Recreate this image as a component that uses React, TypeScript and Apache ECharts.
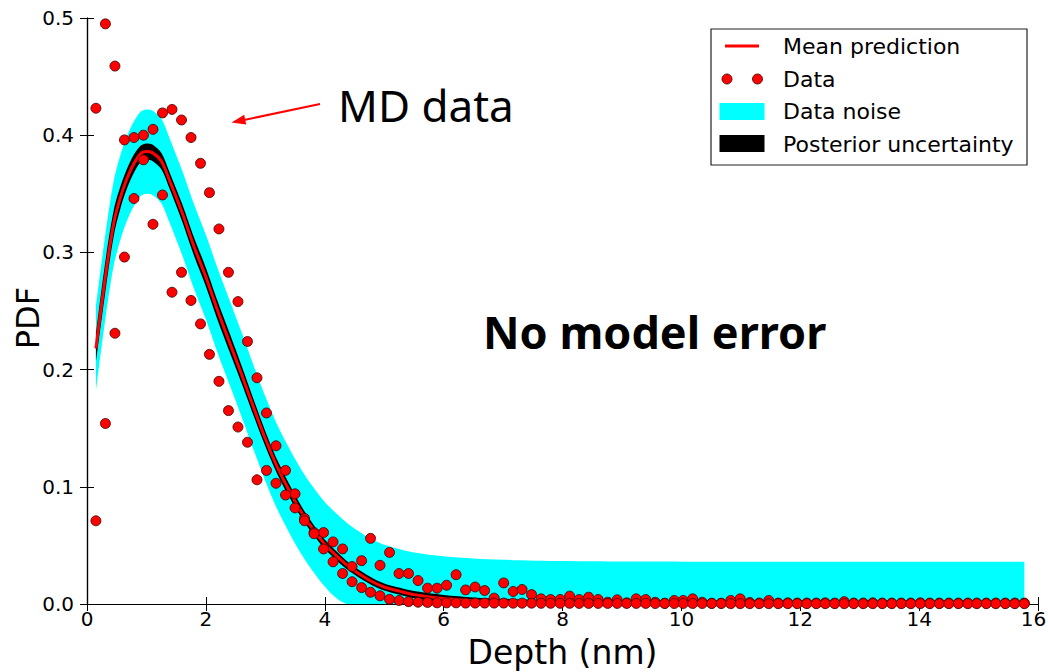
import React, { useEffect, useRef } from "react";
import * as echarts from "echarts";

// Depth grid of the MD data (nm)
const depthX = [
  0.15, 0.31, 0.47, 0.63, 0.79, 0.95, 1.11, 1.27, 1.43, 1.59,
  1.75, 1.91, 2.06, 2.22, 2.38, 2.54, 2.7, 2.86, 3.02, 3.18,
  3.34, 3.5, 3.66, 3.82, 3.98, 4.14, 4.3, 4.46, 4.62, 4.77,
  4.93, 5.09, 5.25, 5.41, 5.57, 5.73, 5.89, 6.05, 6.21, 6.37,
  6.53, 6.69, 6.85, 7.01, 7.17, 7.32, 7.48, 7.64, 7.8, 7.96,
  8.12, 8.28, 8.44, 8.6, 8.76, 8.92, 9.08, 9.24, 9.4, 9.56,
  9.72, 9.88, 10.03, 10.19, 10.35, 10.51, 10.67, 10.83, 10.99, 11.15,
  11.31, 11.47, 11.63, 11.79, 11.95, 12.11, 12.27, 12.42, 12.58, 12.74,
  12.9, 13.06, 13.22, 13.38, 13.54, 13.7, 13.86, 14.02, 14.18, 14.34,
  14.5, 14.66, 14.82, 14.97, 15.13, 15.29, 15.45, 15.61, 15.77,
];

// Data sample 1 (PDF)
const dataA = [
  0.423, 0.495, 0.459, 0.396, 0.398, 0.4, 0.405, 0.419, 0.422, 0.413,
  0.398, 0.376, 0.351, 0.32, 0.283, 0.258, 0.224, 0.193, 0.163, 0.135,
  0.114, 0.094, 0.073, 0.061, 0.061, 0.053, 0.047, 0.032, 0.037, 0.056,
  0.033, 0.044, 0.026, 0.026, 0.02, 0.0135, 0.0135, 0.016, 0.025, 0.012,
  0.0145, 0.0115, 0.005, 0.018, 0.0107, 0.0124, 0.008, 0.0044, 0.0038, 0.0038,
  0.0067, 0.0038, 0.0058, 0.0038, 0.0015, 0.0036, 0.001, 0.0044, 0.0038, 0.0015,
  0.0007, 0.003, 0.003, 0.0044, 0.0015, 0.0007, 0.0007, 0.003, 0.0044, 0.0013,
  0.0008, 0.003, 0.0008, 0.001, 0.0008, 0.0008, 0.0008, 0.001, 0.0008, 0.002,
  0.0008, 0.0008, 0.001, 0.0008, 0.0008, 0.0008, 0.0008, 0.001, 0.0008, 0.0008,
  0.0008, 0.0008, 0.0008, 0.0008, 0.0008, 0.0008, 0.0008, 0.0008, 0.0008,
];

// Data sample 2 (PDF)
const dataB = [
  0.071, 0.154, 0.231, 0.296, 0.346, 0.379, 0.324, 0.349, 0.266, 0.283,
  0.259, 0.239, 0.213, 0.19, 0.165, 0.151, 0.138, 0.106, 0.114, 0.103,
  0.093, 0.082, 0.071, 0.06, 0.047, 0.036, 0.026, 0.019, 0.014, 0.01,
  0.007, 0.004, 0.003, 0.002, 0.0015, 0.0013, 0.001, 0.001, 0.001, 0.0008,
  0.0008, 0.0008, 0.0008, 0.0008, 0.0007, 0.0007, 0.0007, 0.0006, 0.0006, 0.0006,
  0.0006, 0.0005, 0.0005, 0.0005, 0.0005, 0.0005, 0.0005, 0.0005, 0.0005, 0.0004,
  0.0004, 0.0004, 0.0004, 0.0004, 0.0004, 0.0004, 0.0004, 0.0003, 0.0003, 0.0003,
  0.0003, 0.0003, 0.0003, 0.0003, 0.0003, 0.0003, 0.0003, 0.0003, 0.0003, 0.0003,
  0.0003, 0.0003, 0.0003, 0.0003, 0.0003, 0.0003, 0.0003, 0.0003, 0.0003, 0.0003,
  0.0003, 0.0003, 0.0003, 0.0003, 0.0003, 0.0003, 0.0003, 0.0003, 0.0003,
];

// Model curves
const curveX = [
  0.15, 0.3, 0.45, 0.6, 0.75, 0.9, 1.0, 1.1, 1.25, 1.4, 1.6, 1.8, 2.0, 2.2, 2.4,
  2.6, 2.8, 3.0, 3.2, 3.4, 3.6, 3.8, 4.0, 4.2, 4.4, 4.6, 4.8, 5.0, 5.25, 5.5,
  6.0, 6.5, 7.0, 8.0, 9.0, 10.0, 12.0, 14.0, 15.77,
];
const meanPrediction = [
  0.218, 0.276, 0.325, 0.353, 0.372, 0.384, 0.386, 0.385, 0.378, 0.36, 0.334, 0.305, 0.279, 0.25, 0.223,
  0.196, 0.168, 0.141, 0.117, 0.097, 0.079, 0.064, 0.051, 0.041, 0.032, 0.025, 0.019, 0.0145, 0.011, 0.008,
  0.0047, 0.0028, 0.0017, 0.0006, 0.0002, 0.0001, 0, 0, 0,
];
const posteriorLow = [
  0.206, 0.263, 0.314, 0.344, 0.364, 0.377, 0.379, 0.378, 0.371, 0.353, 0.3265, 0.2972, 0.271, 0.242, 0.215,
  0.1885, 0.161, 0.1345, 0.111, 0.0915, 0.074, 0.0595, 0.047, 0.0372, 0.0285, 0.0217, 0.0158, 0.0115, 0.008, 0.005,
  0.0017, 0, 0, 0, 0, 0, 0, 0, 0,
];
const posteriorHigh = [
  0.23, 0.289, 0.336, 0.362, 0.38, 0.391, 0.393, 0.392, 0.385, 0.367, 0.3415, 0.3128, 0.287, 0.258, 0.231,
  0.2035, 0.175, 0.1475, 0.123, 0.1025, 0.084, 0.0685, 0.055, 0.0448, 0.0355, 0.0283, 0.0222, 0.0175, 0.014, 0.011,
  0.0077, 0.0056, 0.0044, 0.0032, 0.0028, 0.0027, 0.0026, 0.0026, 0.0026,
];
const noiseLow = [
  0.182, 0.24, 0.289, 0.317, 0.336, 0.348, 0.35, 0.349, 0.342, 0.324, 0.298, 0.269, 0.243, 0.214, 0.187,
  0.16, 0.132, 0.105, 0.081, 0.061, 0.043, 0.028, 0.015, 0.005, 0, 0, 0, 0, 0, 0,
  0, 0, 0, 0, 0, 0, 0, 0, 0,
];
const noiseHigh = [
  0.254, 0.312, 0.361, 0.389, 0.408, 0.42, 0.422, 0.421, 0.414, 0.396, 0.37, 0.341, 0.315, 0.286, 0.259,
  0.232, 0.204, 0.177, 0.153, 0.133, 0.115, 0.1, 0.087, 0.077, 0.068, 0.061, 0.055, 0.0505, 0.047, 0.044,
  0.0407, 0.0388, 0.0377, 0.0366, 0.0362, 0.0361, 0.036, 0.036, 0.036,
];

const xTicks = { min: 0, max: 16, interval: 2 };
const yTicks = { min: 0, max: 0.5, interval: 0.1 };

const yAxisTitle = "PDF";
const legendLabels = ["Mean prediction", "Data", "Data noise", "Posterior uncertainty"];
const annotationMD = "MD data";
const annotationModel = "No model error";

const FONT = "'DejaVu Sans', sans-serif";

export default function App() {
  const ref = useRef<HTMLDivElement>(null);

  useEffect(() => {
    if (!ref.current) return;
    const chart = echarts.init(ref.current, undefined, { renderer: "svg" });

    const pair = (xs: number[], ys: number[]) => xs.map((x, i) => [x, ys[i]]);
    // [y, x] ordering so that stacking happens on the y dimension
    const yxPair = (ys: number[]) => curveX.map((x, i) => [ys[i], x]);
    const yxWidth = (lo: number[], hi: number[]) => curveX.map((x, i) => [hi[i] - lo[i], x]);

    const scatterData = [...pair(depthX, dataA), ...pair(depthX, dataB)];

    const axisCommon = {
      axisLine: { show: true, lineStyle: { color: "#000", width: 1.2 } },
      axisTick: { show: true, inside: true, length: 7, lineStyle: { color: "#000", width: 1 } },
      splitLine: { show: false },
    };

    const legendX = 711;
    const legendY = 29;
    const rowY = [46, 79, 111.5, 144];

    const bandCommon = {
      type: "line",
      smooth: 0.3,
      symbol: "none",
      stackStrategy: "all",
      encode: { x: 1, y: 0 },
      lineStyle: { opacity: 0, width: 0 },
      silent: true,
    };

    const option: any = {
      animation: false,
      backgroundColor: "#fff",
      grid: { left: 87, right: 10, top: 18, bottom: 68, containLabel: false, outerBoundsMode: "none" },
      xAxis: [
        {
          type: "value",
          ...xTicks,
          position: "bottom",
          ...axisCommon,
          axisLabel: {
            color: "#000",
            fontSize: 20,
            fontFamily: FONT,
            margin: 5,
            formatter: (v: number) => (v === xTicks.max ? `{last|${v}}` : `${v}`),
            rich: { last: { fontSize: 20, fontFamily: FONT, color: "#000", padding: [0, 9, 0, 0] } },
          },
          name: "Depth (nm)",
          nameLocation: "middle",
          nameGap: 32,
          nameTextStyle: { color: "#000", fontSize: 33, fontFamily: FONT },
        },
        {
          type: "value",
          ...xTicks,
          position: "top",
          ...axisCommon,
          axisLabel: { show: false },
        },
      ],
      yAxis: [
        {
          type: "value",
          ...yTicks,
          position: "left",
          ...axisCommon,
          axisLabel: {
            color: "#000",
            fontSize: 20,
            fontFamily: FONT,
            margin: 13,
            formatter: (v: number) => v.toFixed(1),
          },
        },
        {
          type: "value",
          ...yTicks,
          position: "right",
          ...axisCommon,
          axisLabel: { show: false },
        },
      ],
      series: [
        { ...bandCommon, name: "noiseBase", stack: "noise", data: yxPair(noiseLow), z: 1 },
        {
          ...bandCommon,
          name: legendLabels[2],
          stack: "noise",
          data: yxWidth(noiseLow, noiseHigh),
          areaStyle: { color: "#00ffff", opacity: 1 },
          z: 1,
        },
        { ...bandCommon, name: "postBase", stack: "post", data: yxPair(posteriorLow), z: 2 },
        {
          ...bandCommon,
          name: legendLabels[3],
          stack: "post",
          data: yxWidth(posteriorLow, posteriorHigh),
          areaStyle: { color: "#000", opacity: 1 },
          z: 2,
        },
        {
          name: legendLabels[0],
          type: "line",
          data: pair(curveX, meanPrediction),
          smooth: 0.3,
          symbol: "none",
          lineStyle: { color: "#ff0000", width: 3 },
          z: 3,
        },
        {
          name: legendLabels[1],
          type: "scatter",
          data: scatterData,
          symbolSize: 10,
          itemStyle: { color: "#ff0000", borderColor: "#3a0000", borderWidth: 0.8, opacity: 1 },
          z: 4,
        },
      ],
      graphic: [
        {
          type: "text",
          x: 28,
          y: 318,
          rotation: Math.PI / 2,
          style: { text: yAxisTitle, fill: "#000", font: `32px ${FONT}`, textAlign: "center", textVerticalAlign: "middle" },
          z: 11,
        },
        {
          type: "rect",
          shape: { x: legendX, y: legendY, width: 316, height: 136 },
          style: { fill: "#fff", stroke: "#222", lineWidth: 1.2 },
          z: 10,
        },
        {
          type: "line",
          shape: { x1: 725, y1: rowY[0], x2: 759, y2: rowY[0] },
          style: { stroke: "#ff0000", lineWidth: 3 },
          z: 11,
        },
        { type: "circle", shape: { cx: 727, cy: rowY[1], r: 5 }, style: { fill: "#ff0000", stroke: "#3a0000", lineWidth: 0.8 }, z: 11 },
        { type: "circle", shape: { cx: 757.5, cy: rowY[1], r: 5 }, style: { fill: "#ff0000", stroke: "#3a0000", lineWidth: 0.8 }, z: 11 },
        { type: "rect", shape: { x: 719.5, y: 103, width: 45, height: 17 }, style: { fill: "#00ffff" }, z: 11 },
        { type: "rect", shape: { x: 719.5, y: 135, width: 45, height: 17 }, style: { fill: "#000" }, z: 11 },
        ...legendLabels.map((t, i) => ({
          type: "text",
          x: 783,
          y: rowY[i],
          style: { text: t, fill: "#000", font: `22px ${FONT}`, textVerticalAlign: "middle", textAlign: "left" },
          z: 11,
        })),
        {
          type: "text",
          x: 338,
          y: 105,
          style: { text: annotationMD, fill: "#000", font: `44px 'Noto Sans', sans-serif`, textVerticalAlign: "middle" },
          z: 11,
        },
        {
          type: "line",
          shape: { x1: 320, y1: 104, x2: 244, y2: 120 },
          style: { stroke: "#ff0000", lineWidth: 2 },
          z: 11,
        },
        {
          type: "polygon",
          shape: { points: [[231.5, 122.5], [246.2, 124.5], [244.2, 114.7]] },
          style: { fill: "#ff0000" },
          z: 11,
        },
        {
          type: "text",
          x: 483,
          y: 331,
          style: { text: annotationModel, fill: "#000", font: `bold 45px 'Noto Sans', sans-serif`, textVerticalAlign: "middle" },
          z: 11,
        },
      ],
    };

    chart.setOption(option);
    return () => chart.dispose();
  }, []);

  return (
    <div
      ref={ref}
      style={{ position: "fixed", left: 0, top: 0, width: 1048, height: 672, background: "#fff" }}
    />
  );
}
